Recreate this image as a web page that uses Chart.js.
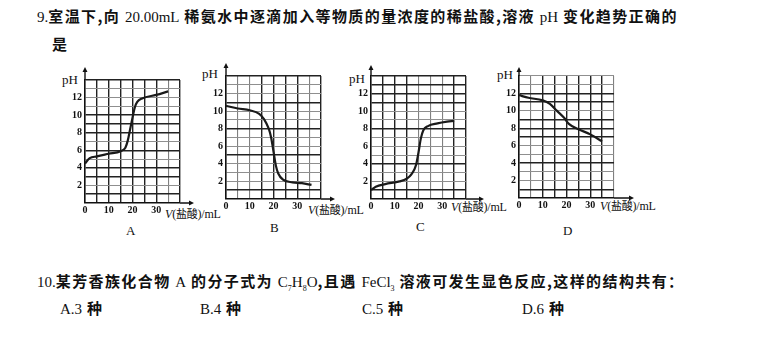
<!DOCTYPE html>
<html>
<head>
<meta charset="utf-8">
<script src="https://cdn.jsdelivr.net/npm/chart.js@4.4.1/dist/chart.umd.min.js"></script>
<style>
  html, body { margin: 0; padding: 0; background: #fff; }
  #page { position: relative; width: 780px; height: 342px; overflow: hidden; }
  #page canvas { position: absolute; left: 0; top: 0; }
  .t { position: absolute; white-space: nowrap; color: #111; }
  .cn { font-family: "Noto Sans CJK SC", sans-serif; font-weight: bold; font-size: 15px; letter-spacing: 1.4px; }
  .se { font-family: "Liberation Serif", serif; font-weight: normal; letter-spacing: 0; }
  .ph { font-family: "Liberation Serif", serif; font-size: 13px; }
  .ax { font-family: "Liberation Serif", serif; font-size: 12px; letter-spacing: -0.2px; }
  .ax b { font-family: "Noto Sans CJK SC", sans-serif; font-weight: normal; font-size: 11px; }
  .lt { font-family: "Liberation Serif", serif; font-size: 13px; }
</style>
</head>
<body>
<div id="page">
  <div class="t cn" style="left:37px;top:5px"><span class="se">9.</span>室温下,向 <span class="se">20.00mL</span> 稀氨水中逐滴加入等物质的量浓度的稀盐酸,溶液 <span class="se">pH</span> 变化趋势正确的</div>
  <div class="t cn" style="left:52px;top:33px">是</div>

  <div class="t ph" style="left:62px;top:72px">pH</div>
  <div class="t ph" style="left:202px;top:66px">pH</div>
  <div class="t ph" style="left:349px;top:71px">pH</div>
  <div class="t ph" style="left:497px;top:67px">pH</div>

  <div class="t ax" style="left:165px;top:205px"><i>V</i>(<b>盐酸</b>)/mL</div>
  <div class="t ax" style="left:308px;top:201px"><i>V</i>(<b>盐酸</b>)/mL</div>
  <div class="t ax" style="left:451px;top:198px"><i>V</i>(<b>盐酸</b>)/mL</div>
  <div class="t ax" style="left:600px;top:197px"><i>V</i>(<b>盐酸</b>)/mL</div>

  <div class="t lt" style="left:126px;top:223px">A</div>
  <div class="t lt" style="left:270px;top:220px">B</div>
  <div class="t lt" style="left:416px;top:219px">C</div>
  <div class="t lt" style="left:563px;top:223px">D</div>

  <div class="t cn" style="left:37px;top:270px"><span class="se">10.</span>某芳香族化合物 <span class="se">A</span> 的分子式为 <span class="se">C<sub style="font-size:8px">7</sub>H<sub style="font-size:8px">8</sub>O</span>,且遇 <span class="se">FeCl<sub style="font-size:8px">3</sub></span> 溶液可发生显色反应,这样的结构共有：</div>
  <div class="t cn" style="left:60px;top:297px"><span class="se">A.3</span> 种</div>
  <div class="t cn" style="left:200px;top:297px"><span class="se">B.4</span> 种</div>
  <div class="t cn" style="left:362px;top:297px"><span class="se">C.5</span> 种</div>
  <div class="t cn" style="left:522px;top:297px"><span class="se">D.6</span> 种</div>
</div>

<script>
// titration curves: added HCl volume (mL) and pH
const volA = [0, 2, 5, 10, 15, 17, 18, 19, 20, 21, 22, 24, 30, 35];
const phA  = [4.5, 5.1, 5.3, 5.6, 5.9, 6.3, 7.1, 8.4, 9.7, 10.9, 11.5, 11.9, 12.3, 12.7];

const volB = [0, 5, 10, 14, 16, 18, 19, 20, 21, 22, 24, 28, 32, 36];
const phB  = [10.6, 10.3, 10.1, 9.7, 9.1, 8.0, 7.0, 5.4, 3.8, 2.9, 2.2, 1.9, 1.8, 1.6];

const volC = [0, 2, 6, 12, 15, 17, 19, 20, 21, 22, 24, 28, 32, 35];
const phC  = [1.0, 1.4, 1.7, 2.0, 2.3, 2.8, 3.9, 5.3, 6.9, 7.8, 8.3, 8.6, 8.8, 8.9];

const volD = [0, 4, 10, 13, 16, 19, 21, 25, 30, 35];
const phD  = [11.8, 11.5, 11.2, 10.8, 10.0, 9.2, 8.5, 7.9, 7.3, 6.5];

// axis ticks
const volTicks = [0, 10, 20, 30];
const phTicks  = [2, 4, 6, 8, 10, 12];

const PAGE_W = 780, PAGE_H = 342;
const Y_AXIS_W = 20, X_AXIS_H = 14;

// little arrows on the ends of both axes
const axisArrows = {
  id: 'axisArrows',
  afterDraw(chart, args, opts) {
    const { ctx, chartArea: a } = chart;
    ctx.save();
    ctx.strokeStyle = '#111';
    ctx.fillStyle = '#111';
    ctx.lineWidth = 1.4;
    ctx.beginPath();
    ctx.moveTo(a.left, a.top);
    ctx.lineTo(a.left, a.top - opts.up);
    ctx.moveTo(a.right, a.bottom);
    ctx.lineTo(a.right + opts.right, a.bottom);
    ctx.stroke();
    ctx.beginPath();
    ctx.moveTo(a.left, a.top - opts.up - 4);
    ctx.lineTo(a.left - 2.5, a.top - opts.up + 1);
    ctx.lineTo(a.left + 2.5, a.top - opts.up + 1);
    ctx.closePath();
    ctx.moveTo(a.right + opts.right + 4, a.bottom);
    ctx.lineTo(a.right + opts.right - 1, a.bottom - 2.5);
    ctx.lineTo(a.right + opts.right - 1, a.bottom + 2.5);
    ctx.closePath();
    ctx.fill();
    ctx.restore();
  }
};

function panel(vols, phs, box, darkY, darkX, arrows) {
  const cv = document.createElement('canvas');
  cv.width = PAGE_W;
  cv.height = PAGE_H;
  document.getElementById('page').appendChild(cv);

  const pts = vols.map((v, i) => ({ x: v, y: phs[i] }));

  new Chart(cv, {
    type: 'scatter',
    data: {
      datasets: [{
        data: pts,
        showLine: true,
        borderColor: '#1a1a1a',
        borderWidth: 2.2,
        pointRadius: 0,
        cubicInterpolationMode: 'monotone'
      }]
    },
    options: {
      responsive: false,
      animation: false,
      events: [],
      layout: {
        padding: {
          left: box.l - Y_AXIS_W,
          top: box.t,
          right: PAGE_W - box.r,
          bottom: PAGE_H - box.b - X_AXIS_H
        }
      },
      plugins: { legend: { display: false }, tooltip: { enabled: false }, axisArrows: arrows },
      scales: {
        x: {
          type: 'linear', min: 0, max: 40,
          afterFit(s) { s.height = X_AXIS_H; },
          ticks: {
            stepSize: 5, padding: 1, color: '#111',
            autoSkip: false, maxRotation: 0, minRotation: 0,
            font: { family: 'Liberation Serif', size: 10, weight: 'bold' },
            callback: v => volTicks.includes(v) ? String(v) : ''
          },
          grid: {
            drawTicks: false,
            color: c => darkX.includes(c.tick && c.tick.value) ? '#222' : '#808080',
            lineWidth: c => darkX.includes(c.tick && c.tick.value) ? 1.4 : 1.1
          },
          border: { color: '#111', width: 1.6 }
        },
        y: {
          min: 0, max: 14,
          afterFit(s) { s.width = Y_AXIS_W; },
          ticks: {
            stepSize: 1, padding: 3, color: '#111', autoSkip: false,
            font: { family: 'Liberation Serif', size: 10, weight: 'bold' },
            callback: v => phTicks.includes(v) ? String(v) : ''
          },
          grid: {
            drawTicks: false,
            color: c => darkY.includes(c.tick && c.tick.value) ? '#222' : '#8f8f8f',
            lineWidth: c => darkY.includes(c.tick && c.tick.value) ? 1.5 : 1.1
          },
          border: { color: '#111', width: 1.6 }
        }
      }
    },
    plugins: [axisArrows]
  });
}

panel(volA, phA, { l: 85, t: 80, r: 180, b: 203 }, [6, 10, 14, 4, 3, 1, 8, 9], [5, 10, 15, 20, 25, 30, 40], { up: 9, right: 10 });
panel(volB, phB, { l: 226, t: 76, r: 321, b: 199 }, [14, 11, 8, 5, 1], [15, 20, 25, 30, 40], { up: 9, right: 10 });
panel(volC, phC, { l: 371, t: 76, r: 466, b: 199 }, [14, 13, 12, 11, 8, 4, 1], [5, 10, 15, 35, 40], { up: 7, right: 14 });
panel(volD, phD, { l: 519, t: 76, r: 614, b: 198 }, [12, 11, 9, 8, 7, 4, 1], [10, 15, 20, 25, 30, 35], { up: 5, right: 16 });
</script>
</body>
</html>
